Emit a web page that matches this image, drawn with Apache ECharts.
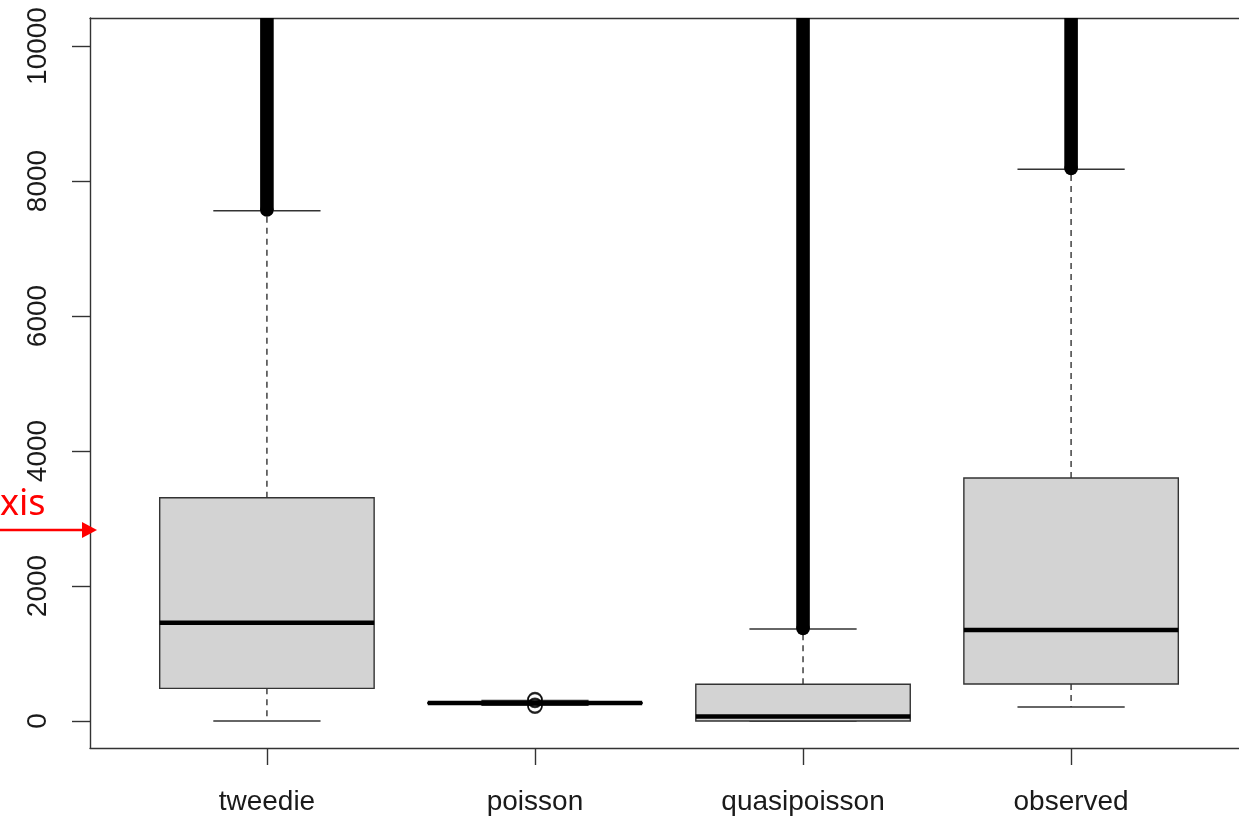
<!DOCTYPE html>
<html>
<head>
<meta charset="utf-8">
<script src="https://cdn.jsdelivr.net/npm/echarts@6/dist/echarts.min.js"></script>
<style>html,body{margin:0;padding:0;background:#fff;}#c{width:1239px;height:820px;}</style>
</head>
<body>
<div id="c"></div>
<script>
// ---- data ----
const categories = ['tweedie', 'poisson', 'quasipoisson', 'observed'];
const lowerWhisker = [0, 232, 0, 207];
const q1 = [484, 264, 0, 548];
const median = [1456, 268, 67, 1348];
const q3 = [3308, 272, 544, 3600];
const upperWhisker = [7560, 303, 1363, 8175];
// dense outlier runs (from lowest outlier to beyond the top of the plot)
const outlierRunLow = [7570, null, 1370, 8185];
const outlierRunHigh = [10500, null, 10500, 10500];
// sparse individual outliers of the poisson group
const poissonOutliers = [219, 232, 305, 319];
const yTicks = [0, 2000, 4000, 6000, 8000, 10000];

const FONT = '"Liberation Sans", Arial, sans-serif';
const INK = '#1a1a1a';
const FRAME = '#333';

const boxData = categories.map((c, i) => [i + 1, lowerWhisker[i], q1[i], median[i], q3[i], upperWhisker[i]]);
const runData = categories.map((c, i) => outlierRunLow[i] == null ? null : [i + 1, outlierRunLow[i], outlierRunHigh[i]]).filter(d => d);
const pointData = poissonOutliers.map(v => [2, v]);

function renderBox(params, api) {
  const x = api.value(0);
  const unit = api.size([1, 0])[0];
  const half = unit * 0.4;
  const capHalf = half / 2;
  const pMin = api.coord([x, api.value(1)]);
  const pQ1 = api.coord([x, api.value(2)]);
  const pMed = api.coord([x, api.value(3)]);
  const pQ3 = api.coord([x, api.value(4)]);
  const pMax = api.coord([x, api.value(5)]);
  const cx = pMed[0];
  const dash = { stroke: FRAME, lineWidth: 1.4, lineDash: [6, 5] };
  const solid = { stroke: FRAME, lineWidth: 1.4 };
  return {
    type: 'group',
    children: [
      { type: 'line', shape: { x1: cx, y1: pQ3[1], x2: cx, y2: pMax[1] }, style: dash },
      { type: 'line', shape: { x1: cx, y1: pQ1[1], x2: cx, y2: pMin[1] }, style: dash },
      { type: 'line', shape: { x1: cx - capHalf, y1: pMax[1], x2: cx + capHalf, y2: pMax[1] }, style: solid },
      { type: 'line', shape: { x1: cx - capHalf, y1: pMin[1], x2: cx + capHalf, y2: pMin[1] }, style: solid },
      { type: 'rect', shape: { x: cx - half, y: pQ3[1], width: half * 2, height: Math.max(pQ1[1] - pQ3[1], 0.5) },
        style: { fill: '#d3d3d3', stroke: FRAME, lineWidth: 1.4 } },
      { type: 'line', shape: { x1: cx - half, y1: pMed[1], x2: cx + half, y2: pMed[1] },
        style: { stroke: '#000', lineWidth: 4.5 } }
    ]
  };
}

function renderRun(params, api) {
  const x = api.value(0);
  const lo = api.coord([x, api.value(1)]);
  const hi = api.coord([x, api.value(2)]);
  const r = 6.8;
  return {
    type: 'group',
    children: [
      { type: 'rect', shape: { x: lo[0] - r, y: hi[1], width: r * 2, height: lo[1] - hi[1] }, style: { fill: '#000' } },
      { type: 'circle', shape: { cx: lo[0], cy: lo[1], r: r }, style: { fill: '#000' } }
    ]
  };
}

const chart = echarts.init(document.getElementById('c'), null, { renderer: 'canvas' });
chart.setOption({
  animation: false,
  backgroundColor: '#fff',
  grid: { left: 90, top: 18, right: 0, height: 730, show: false },
  xAxis: [{
    type: 'value', min: 0.34, max: 4.6264, position: 'bottom',
    axisLine: { show: true, onZero: false, lineStyle: { color: FRAME, width: 1.4 } },
    splitLine: { show: false },
    axisTick: { show: true, customValues: [1, 2, 3, 4], length: 17, lineStyle: { color: FRAME, width: 1.4 } },
    axisLabel: { customValues: [1, 2, 3, 4], formatter: v => categories[Math.round(v) - 1], margin: 40,
      fontFamily: FONT, fontSize: 28, color: INK }
  }, {
    type: 'value', min: 0.34, max: 4.6264, position: 'top',
    axisLine: { show: true, onZero: false, lineStyle: { color: FRAME, width: 1.4 } },
    splitLine: { show: false }, axisTick: { show: false }, axisLabel: { show: false }
  }],
  yAxis: {
    type: 'value', min: -400, max: 10415,
    axisLine: { show: true, onZero: false, lineStyle: { color: FRAME, width: 1.4 } },
    splitLine: { show: false },
    axisTick: { show: true, customValues: yTicks, length: 18, lineStyle: { color: FRAME, width: 1.4 } },
    axisLabel: { customValues: yTicks, formatter: v => String(v), rotate: 90, margin: 38, fontFamily: FONT, fontSize: 28, color: INK }
  },
  series: [
    { type: 'custom', data: boxData, renderItem: renderBox, clip: true, z: 2 },
    { type: 'custom', data: runData, renderItem: renderRun, clip: true, z: 3 },
    { type: 'scatter', data: pointData, symbol: 'circle', symbolSize: 14,
      itemStyle: { color: 'rgba(0,0,0,0)', borderColor: '#000', borderWidth: 1.5 }, z: 4 }
  ],
  graphic: [
    { type: 'text', left: 0, top: 487, z: 100,
      style: { text: 'xis', fill: '#ff0000', font: '36px "Noto Sans", "Open Sans", sans-serif' } },
    { type: 'line', z: 100, shape: { x1: 0, y1: 530, x2: 84, y2: 530 }, style: { stroke: '#ff0000', lineWidth: 2.5 } },
    { type: 'polygon', z: 100, shape: { points: [[82, 522], [97, 530], [82, 538]] }, style: { fill: '#ff0000' } }
  ]
});
</script>
</body>
</html>
